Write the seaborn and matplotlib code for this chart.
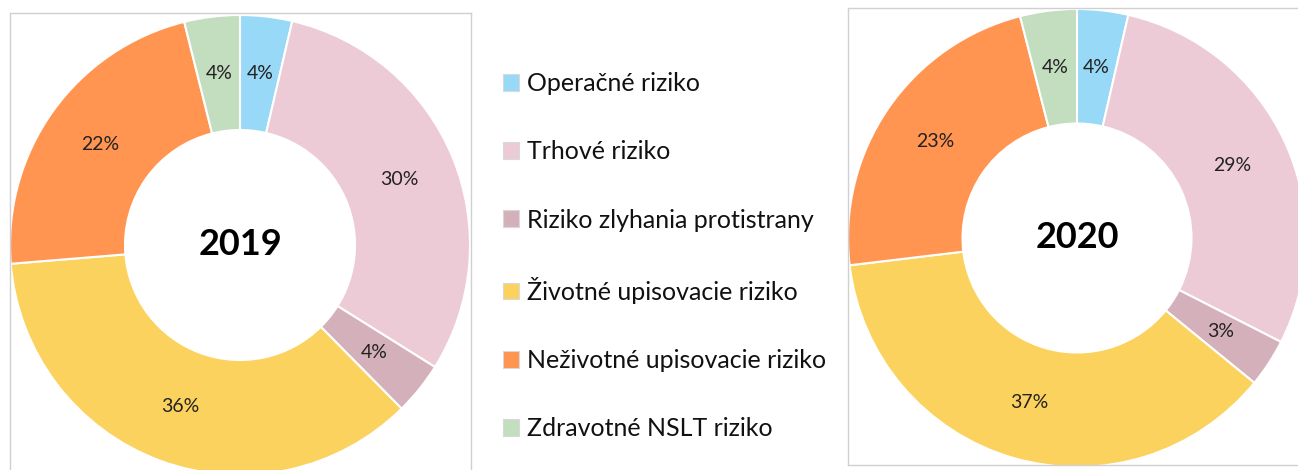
import numpy as np
import seaborn as sns
import matplotlib.pyplot as plt
from matplotlib.patches import Patch

# Data
CATEGORIES = ['Operačné riziko', 'Trhové riziko', 'Riziko zlyhania protistrany',
              'Životné upisovacie riziko', 'Neživotné upisovacie riziko', 'Zdravotné NSLT riziko']
VALUES_2019 = [3.65, 30.25, 3.7, 36.1, 22.4, 3.9]
VALUES_2020 = [3.6, 28.9, 3.4, 37.2, 22.9, 4.0]
YEARS = ['2019', '2020']
COLORS = ['#97D9F7', '#EDCBD6', '#D4B1BA', '#FCD25E', '#FF9550', '#C3DDBF']

sns.set_theme(style='white')
plt.rcParams['font.family'] = ['Lato', 'DejaVu Sans']

W, H = 1298, 470
fig = plt.figure(figsize=(W / 100, H / 100), dpi=100)
palette = sns.color_palette(COLORS)


def donut(values, year, frame, center, radius, hidden_spine):
    """frame = (left, top, right, bottom) in pixels, center/radius in pixels"""
    left, top, right, bottom = frame
    cx, cy = center
    ax = fig.add_axes([left / W, (H - bottom) / H, (right - left) / W, (bottom - top) / H])
    ax.pie(values, colors=palette, startangle=90, counterclock=False,
           autopct='%.0f%%', pctdistance=0.75,
           wedgeprops=dict(width=0.5, edgecolor='white', linewidth=1.5),
           textprops=dict(fontsize=14, color='#222222'))
    ax.set_xlim((left - cx) / radius, (right - cx) / radius)
    ax.set_ylim((cy - bottom) / radius, (cy - top) / radius)
    ax.set_aspect('auto')
    ax.set_frame_on(True)
    for name, sp in ax.spines.items():
        sp.set_color('#D0D0D0')
        sp.set_linewidth(1.0)
        sp.set_visible(name != hidden_spine)
    ax.text(0, 0, year, ha='center', va='center', fontsize=26, fontweight='bold', color='black')
    return ax


donut(VALUES_2019, YEARS[0], (10, 13, 471, 472), (240, 245), 230, 'bottom')
donut(VALUES_2020, YEARS[1], (848, 8, 1300, 465), (1077, 238), 229, 'right')

handles = [Patch(facecolor=c, edgecolor='#D9D9D9', linewidth=0.8) for c in palette]
leg = fig.legend(handles, CATEGORIES, loc='upper left', bbox_to_anchor=(503 / W, (H - 72) / H),
                 frameon=False, fontsize=18, handlelength=0.65, handleheight=0.65,
                 handletextpad=0.3, labelspacing=1.81, borderpad=0, borderaxespad=0)
for t in leg.get_texts():
    t.set_color('#111111')

fig.savefig('out.png', dpi=100)
